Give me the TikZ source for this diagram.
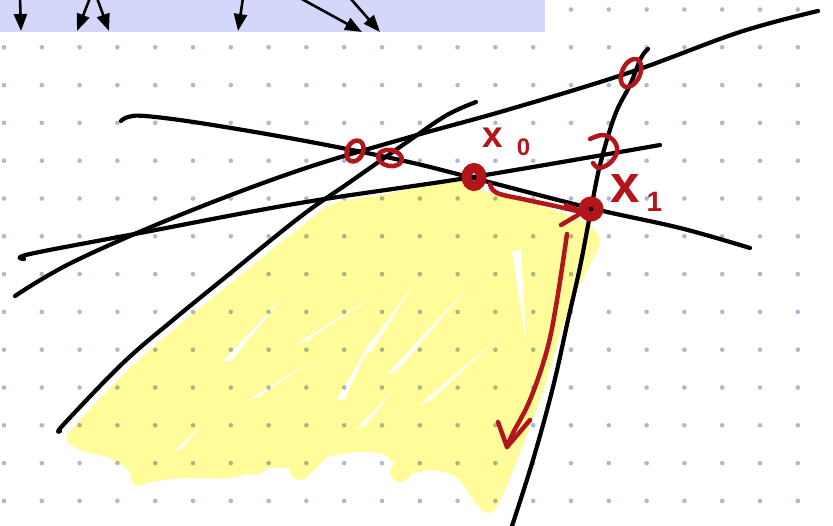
\documentclass[tikz,border=0pt]{standalone}
\usepackage{fontspec}
\setmainfont{Liberation Sans}
\usetikzlibrary{arrows.meta}
\definecolor{dotc}{HTML}{A9B9D6}
\definecolor{bandc}{HTML}{D4D6FA}
\definecolor{hl}{HTML}{FFFC99}
\definecolor{ink}{HTML}{B3161A}
\begin{document}
\begin{tikzpicture}[x=1pt,y=-1pt,
  pen/.style={line width=4.2pt, line cap=round, line join=round},
  redpen/.style={draw=ink, line width=4.5pt, line cap=round, line join=round},
  hdr/.style={line width=2.6pt, -{Triangle[length=17pt,width=13pt]}},
  marker/.style={draw=ink, line width=10pt},
  scribble/.style={draw=hl, line width=20pt, line cap=round, line join=round},
  gap/.style={fill=white},
  lbl/.style={anchor=base west, inner sep=0pt, text=ink}]
\useasboundingbox (0,0) rectangle (833,526);
\fill[white] (0,0) rectangle (833,526);
% yellow scribble region
\fill[hl] plot[smooth cycle, tension=0.5] coordinates {(66,438) (80,420) (128,370) (178,326) (226,287) (304,224) (335,203) (380,195) (430,185) (462,180) (480,190) (520,200) (560,212) (590,225) (600,242) (590,265) (572,300) (560,335) (545,385) (525,440) (505,490) (495,510) (485,512) (472,498) (455,476) (430,470) (405,474) (385,455) (360,452) (330,456) (300,468) (270,468) (230,478) (180,478) (145,482) (128,470) (110,458) (80,450)};
\draw[scribble] (300,470) -- (330,440) (400,472) -- (430,440) (140,476) -- (190,430) (255,465) -- (300,420);
% white gaps in the scribble
\fill[gap] (222,362) -- (232,360) -- (284,296) -- cycle;
\fill[gap] (248,400) -- (258,397) -- (318,357) -- cycle;
\fill[gap] (295,345) -- (305,342) -- (381,291) -- cycle;
\fill[gap] (336,401) -- (345,399) -- (373,337) -- cycle;
\fill[gap] (362,355) -- (371,352) -- (416,281) -- cycle;
\fill[gap] (387,374) -- (397,371) -- (471,284) -- cycle;
\fill[gap] (420,404) -- (430,401) -- (499,337) -- cycle;
\fill[gap] (512,252) -- (521,249) -- (526,342) -- cycle;
\fill[gap] (357,428) -- (366,425) -- (393,391) -- cycle;
\fill[gap] (173,452) -- (182,449) -- (201,426) -- cycle;
% dotted grid (multiplied so that it tints inside the yellow)
\begin{scope}[blend mode=multiply]
\foreach \i in {0,...,22} \foreach \j in {0,...,13}
  \fill[dotc] (4+37.8*\i, 9.5+37.8*\j) circle [radius=2.3pt];
\end{scope}
% top band with arrows
\fill[bandc] (0,0) rectangle (545,32);
\coordinate (a1s) at (20,-2);  \coordinate (a1e) at (21,31);
\coordinate (a2s) at (90,-2);  \coordinate (a2e) at (77,31);
\coordinate (a3s) at (97,-2);  \coordinate (a3e) at (109,31);
\coordinate (a4s) at (243,-2); \coordinate (a4e) at (238,31);
\coordinate (a5s) at (300,-2); \coordinate (a5e) at (362,32);
\coordinate (a6s) at (350,-2); \coordinate (a6e) at (380,32);
\draw[hdr] (a1s) -- (a1e);
\draw[hdr] (a2s) -- (a2e);
\draw[hdr] (a3s) -- (a3e);
\draw[hdr] (a4s) -- (a4e);
\draw[hdr] (a5s) -- (a5e);
\draw[hdr] (a6s) -- (a6e);
% black lines
\draw[pen] plot[smooth, tension=0.6] coordinates {(15,296) (73,262) (180,215) (300,170) (410,137) (507,110) (628,73) (740,32) (818,11)};
\draw[pen] plot[smooth, tension=0.6] coordinates {(24,259) (30,254) (140,233) (300,203) (473,177) (660,145)};
\draw[pen] plot[smooth, tension=0.6] coordinates {(121,121) (128,117) (145,116) (200,123) (300,140) (400,160) (473,178) (590,208) (680,228) (750,248)};
\draw[pen] plot[smooth, tension=0.6] coordinates {(60,431) (64,424) (123,363) (173,320) (222,280) (300,217) (350,182) (410,140) (447,115) (476,102)};
\draw[pen] plot[smooth, tension=0.6] coordinates {(648,49) (641,58) (630,85) (615,115) (600,165) (590,215) (580,267) (568,320) (553,387) (533,460) (512,526)};
% red marks
\draw[redpen, rotate around={-25:(631,73)}] (631,73) ellipse [x radius=9pt, y radius=15pt];
\draw[redpen, rotate around={-25:(355,151)}] (355,151) ellipse [x radius=8pt, y radius=11pt];
\draw[redpen, rotate around={-10:(390,158)}] (390,158) ellipse [x radius=12pt, y radius=8pt];
\draw[redpen] plot[smooth, tension=0.6] coordinates {(590,139) (603,135) (614,141) (617,152) (610,163) (599,168) (593,163)};
\draw[marker] (474,177) ellipse [x radius=7.5pt, y radius=9pt];
\draw[marker] (591,209) circle [radius=7.5pt];
% red arrows
\draw[redpen] plot[smooth, tension=0.6] coordinates {(490,184) (497,193) (527,200) (555,206) (581,212)};
\draw[redpen] (566,205) -- (583,212) -- (561,225);
\draw[redpen] plot[smooth, tension=0.6] coordinates {(567,234) (557,300) (547,350) (530,400) (513,433) (507,447)};
\draw[redpen] (498,422) -- (507,447) -- (530,420);
% labels
\node[lbl, font=\bfseries\fontsize{37}{37}\selectfont] (lx0) at (482,148) {x\kern14pt\raisebox{-8pt}{\fontsize{24}{24}\selectfont 0}};
\node[lbl, font=\bfseries\fontsize{53}{53}\selectfont] (lx1) at (610,203) {x\kern7pt\raisebox{-9pt}{\fontsize{28}{28}\selectfont 1}};
\end{tikzpicture}
\end{document}
